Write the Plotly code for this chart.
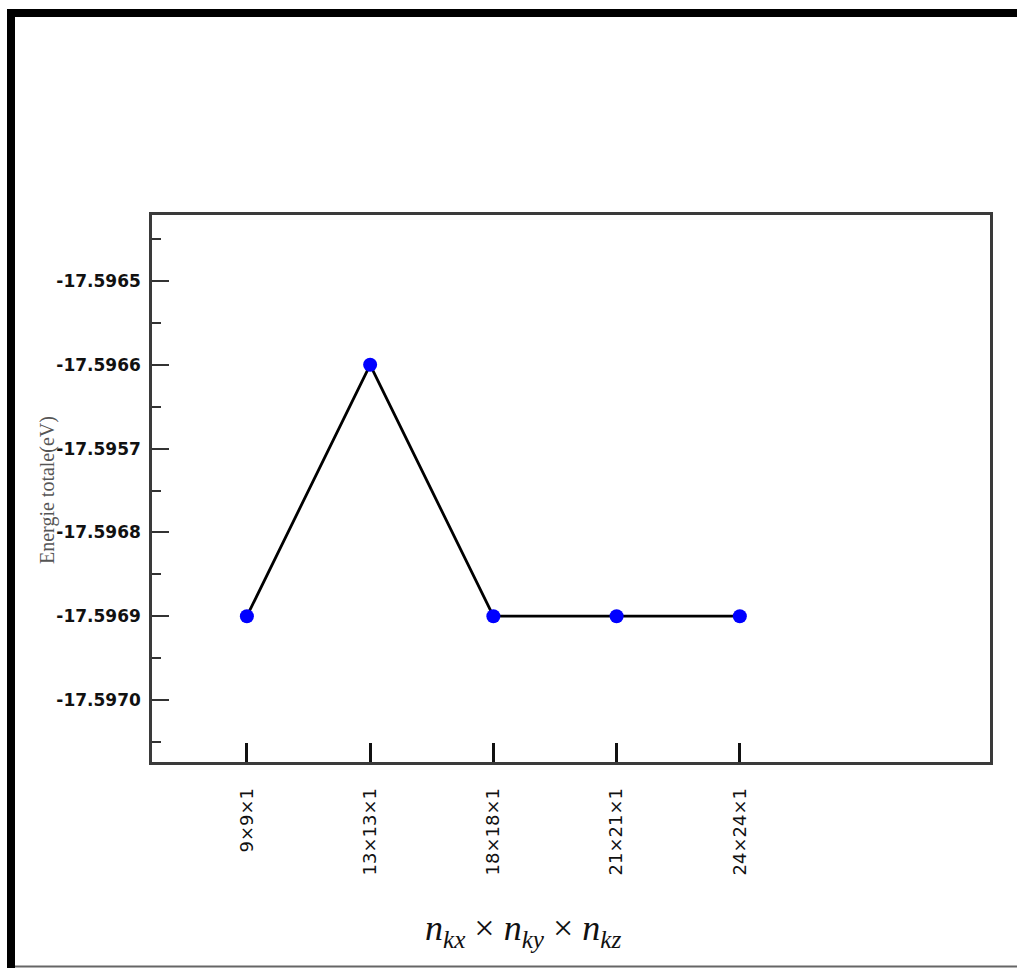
import plotly.graph_objects as go

# Data
kpoint_grids = ["9×9×1", "13×13×1", "18×18×1", "21×21×1", "24×24×1"]
total_energy = [-17.5969, -17.5966, -17.5969, -17.5969, -17.5969]

y_tick_values = [-17.5965, -17.5966, -17.5967, -17.5968, -17.5969, -17.5970]
y_tick_labels = ["-17.5965", "-17.5966", "-17.5957", "-17.5968", "-17.5969", "-17.5970"]

W, H = 1017, 968
L, R, T, B = 152, 990, 215, 762


def px(x):
    return (x - L) / (R - L)


def py(y):
    return (B - y) / (B - T)


fig = go.Figure()
fig.add_trace(go.Scatter(
    x=kpoint_grids, y=total_energy, mode="lines+markers",
    line=dict(color="#000000", width=2.8),
    marker=dict(color="#0000ff", size=14),
    showlegend=False, cliponaxis=False,
))

fig.update_layout(
    width=W, height=H,
    margin=dict(l=L, r=W - R, t=T, b=H - B, pad=0),
    paper_bgcolor="white", plot_bgcolor="white",
    xaxis=dict(
        type="category", range=[-0.77, 6.03],
        showline=True, linecolor="#3a3a3a", linewidth=2.5, mirror=True,
        showgrid=False, zeroline=False,
        ticks="inside", ticklen=19, tickwidth=2.5, tickcolor="#111",
        tickangle=-90, ticklabelstandoff=16,
        tickfont=dict(family="DejaVu Sans", size=18, color="#111"),
    ),
    yaxis=dict(
        range=[-17.597074, -17.5964212],
        showline=True, linecolor="#3a3a3a", linewidth=2.5, mirror=True,
        showgrid=False, zeroline=False,
        tickmode="array", tickvals=y_tick_values, ticktext=y_tick_labels,
        ticks="inside", ticklen=17, tickwidth=2, tickcolor="#333",
        ticklabelstandoff=5,
        tickfont=dict(family="DejaVu Sans", size=17, color="#111", weight="bold"),
        minor=dict(ticks="inside", ticklen=9, tickwidth=2, tickcolor="#333",
                   tick0=-17.5965, dtick=0.00005, showgrid=False),
    ),
)

# Y axis title
fig.add_annotation(
    text="Energie totale(eV)", xref="paper", yref="paper",
    x=px(47), y=py(490), textangle=-90, showarrow=False,
    xanchor="center", yanchor="middle",
    font=dict(family="Liberation Serif", size=20, color="#555"),
)
# X axis title
fig.add_annotation(
    text="<i>n</i><sub><i>kx</i></sub> × <i>n</i><sub><i>ky</i></sub> × <i>n</i><sub><i>kz</i></sub>",
    xref="paper", yref="paper", x=px(523), y=py(930), showarrow=False,
    xanchor="center", yanchor="middle",
    font=dict(family="Liberation Serif", size=36, color="#111"),
)

# Outer frame
fig.add_shape(type="rect", xref="paper", yref="paper",
              x0=px(7), x1=px(1017), y0=py(17), y1=py(9),
              fillcolor="black", line=dict(width=0))
fig.add_shape(type="rect", xref="paper", yref="paper",
              x0=px(7), x1=px(15), y0=py(968), y1=py(9),
              fillcolor="black", line=dict(width=0))
fig.add_shape(type="line", xref="paper", yref="paper",
              x0=px(15), x1=px(1017), y0=py(966.5), y1=py(966.5),
              line=dict(color="#666", width=2))

fig.write_html("out.html")
